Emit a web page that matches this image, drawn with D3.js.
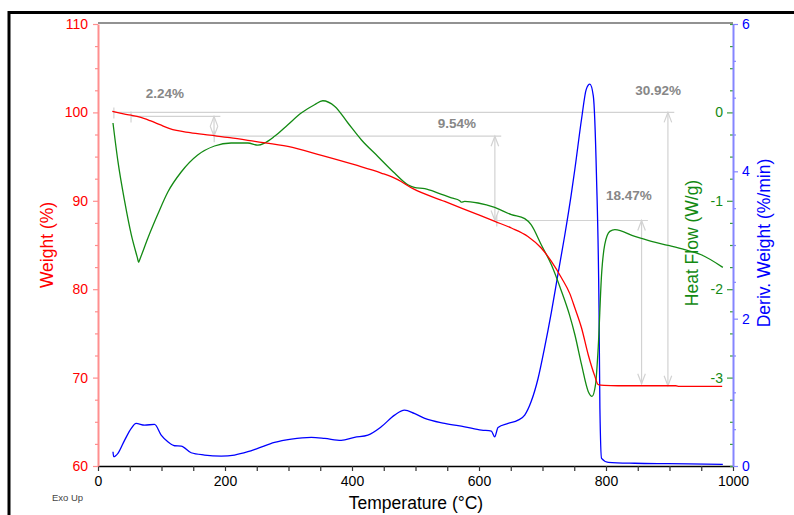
<!DOCTYPE html>
<html>
<head>
<meta charset="utf-8">
<script src="https://cdn.jsdelivr.net/npm/d3@7"></script>
<style>
  body { margin: 0; background: #fff; }
  svg { display: block; font-family: "Liberation Sans", Arial, sans-serif; }
</style>
</head>
<body>
<svg id="chart" width="794" height="515"></svg>
<script>
// ---- TGA / DSC run: weight, heat flow and derivative weight vs temperature ----
const weightTemp = [22.5, 34.6, 52, 66, 82, 97.5, 113, 145, 176, 207.5, 247, 299, 352, 404, 446, 472, 496, 546, 598.5, 625, 651, 677, 698, 714, 730, 743, 751, 761.5, 772, 782.5, 787.7, 797, 819, 910, 915, 983];
const weightPct  = [100.11, 99.91, 99.68, 99.46, 99.06, 98.61, 98.16, 97.70, 97.42, 97.14, 96.72, 96.15, 95.14, 94.08, 93.14, 92.39, 91.37, 89.93, 88.43, 87.67, 86.92, 85.97, 84.66, 83.14, 81.27, 79.5, 77.87, 75.61, 72.59, 70.14, 69.2, 69.12, 69.08, 69.08, 69.0, 69.0];

const heatTemp = [23.6, 31.4, 42, 52.4, 62, 64, 66, 78.6, 94.3, 110, 131, 157, 183.5, 209.6, 236, 251.6, 262.6, 278, 299, 320, 341, 354, 373, 393.6, 414.6, 440.7, 467, 488, 498, 514.6, 535.7, 556.6, 569.7, 572, 577.5, 598.5, 624.7, 651, 672, 682, 698, 714, 730, 742.5, 751, 761.5, 772, 778, 783.5, 787.7, 793, 798, 806, 814, 845.4, 871.5, 898, 924, 950, 984];
const heatFlow = [-0.12, -0.554, -1.007, -1.383, -1.643, -1.695, -1.66, -1.42, -1.149, -0.90, -0.674, -0.482, -0.38, -0.346, -0.346, -0.371, -0.346, -0.271, -0.139, -0.007, 0.087, 0.132, 0.068, -0.12, -0.309, -0.498, -0.686, -0.818, -0.848, -0.863, -0.912, -0.968, -0.999, -1.016, -1.007, -1.025, -1.075, -1.157, -1.202, -1.27, -1.497, -1.723, -2.025, -2.29, -2.515, -2.854, -3.156, -3.213, -3.08, -2.665, -1.836, -1.497, -1.346, -1.327, -1.403, -1.459, -1.505, -1.553, -1.61, -1.753];

const derivTemp = [23.6, 24.7, 31.4, 42, 52.4, 60, 73.4, 89, 99.5, 110, 120.6, 131, 146.7, 167.7, 194, 215, 236, 251.6, 278, 304.5, 336, 357, 383, 404, 425, 446, 467, 482.7, 498, 514.6, 546, 577.5, 604, 619.5, 624.7, 630, 645.8, 661.5, 672, 682, 693, 703, 714, 724, 735, 745, 751, 761.5, 769, 774.6, 780, 785, 789, 790.4, 793, 803.5, 845, 898, 984];
const derivWeight = [0.194, 0.126, 0.172, 0.352, 0.511, 0.578, 0.555, 0.565, 0.42, 0.329, 0.275, 0.271, 0.18, 0.149, 0.135, 0.149, 0.194, 0.24, 0.321, 0.366, 0.389, 0.375, 0.348, 0.389, 0.42, 0.532, 0.691, 0.758, 0.714, 0.646, 0.578, 0.532, 0.488, 0.474, 0.397, 0.524, 0.578, 0.623, 0.691, 0.871, 1.188, 1.594, 2.09, 2.587, 3.129, 3.67, 4.032, 4.71, 5.116, 5.184, 5.025, 3.941, 2.136, 0.781, 0.104, 0.05, 0.037, 0.031, 0.023];

// weight-loss steps
const stepLabels     = ["2.24%", "9.54%", "18.47%", "30.92%"];
const stepLoss       = [2.24, 9.54, 18.47, 30.92];
const stepFromWeight = [99.55, 97.31, 87.77, 100.0];
const stepStartTemp  = [52, 183, 628, 25];
const stepArrowTemp  = [182.7, 625, 856, 897.5];
const stepLabelTemp  = [105.5, 565, 836, 882];
const stepLabelWeight = [102.2, 98.8, 90.66, 102.5];

// axis ticks
const tempTicks   = d3.range(0, 1000.1, 50);
const tempLabels  = [0, 200, 400, 600, 800, 1000];
const weightTicks = d3.range(60, 110.1, 2.5);
const weightLabels = [60, 70, 80, 90, 100, 110];
const heatTicks   = d3.range(-4, 1.01, 0.25);
const heatLabels  = [0, -1, -2, -3];
const derivTicks  = d3.range(0, 6.01, 0.5);
const derivLabels = [0, 2, 4, 6];

const RED = "#ff0000", GREEN = "#138a13", BLUE = "#0000ff";
const svg = d3.select("#chart");

const x  = d3.scaleLinear().domain([0, 1000]).range([98, 733]);
const yW = d3.scaleLinear().domain([60, 110]).range([466, 24]);
const yH = d3.scaleLinear().domain([-4, 1]).range([466, 24]);
const yD = d3.scaleLinear().domain([0, 6]).range([466, 24]);

// outer frame
svg.append("path").attr("d", "M9,515V12.5H794").attr("fill", "none")
  .attr("stroke", "#000").attr("stroke-width", 3);

// top border of plot
svg.append("line").attr("x1", x(0)).attr("x2", x(1000)).attr("y1", 23).attr("y2", 23)
  .attr("stroke", "#6e6e6e").attr("stroke-width", 1.5);

function styleAxis(g, color, lineColor, labels, majorSize, minorSize, dir) {
  g.select(".domain").attr("stroke", lineColor).attr("stroke-width", 2);
  g.selectAll(".tick line").attr("stroke", lineColor).attr("stroke-width", 1.2)
    .each(function(d) {
      const len = labels.some(v => Math.abs(v - d) < 1e-9) ? majorSize : minorSize;
      const l = d3.select(this);
      if (dir === "x") l.attr("y2", len);
      else l.attr("x2", dir === "left" ? -len : len);
    });
  g.selectAll(".tick text").attr("fill", color).style("font-size", "14px");
}

const fmt = labels => d => labels.some(v => Math.abs(v - d) < 1e-9) ? String(d) : "";

// bottom axis
const gx = svg.append("g").attr("transform", "translate(0,466)")
  .call(d3.axisBottom(x).tickValues(tempTicks).tickFormat(fmt(tempLabels))
    .tickSize(5).tickSizeOuter(0).tickPadding(5));
styleAxis(gx, "#000", "#333", tempLabels, 5, 5, "x");
gx.select(".domain").attr("stroke", "#000").attr("stroke-width", 1.5);

// left weight axis
const gw = svg.append("g").attr("transform", "translate(98,0)")
  .call(d3.axisLeft(yW).tickValues(weightTicks).tickFormat(fmt(weightLabels))
    .tickSize(5).tickSizeOuter(0).tickPadding(5));
styleAxis(gw, RED, "#ff8f8f", weightLabels, 5, 3, "left");

// right heat flow axis (ticks inside)
const gh = svg.append("g").attr("transform", "translate(733,0)")
  .call(d3.axisLeft(yH).tickValues(heatTicks).tickFormat(fmt(heatLabels))
    .tickSize(6).tickSizeOuter(0).tickPadding(4));
styleAxis(gh, GREEN, "#3c9c3c", heatLabels, 6, 3, "left");
gh.select(".domain").remove();

// right derivative axis
const gd = svg.append("g").attr("transform", "translate(733,0)")
  .call(d3.axisRight(yD).tickValues(derivTicks).tickFormat(fmt(derivLabels))
    .tickSize(5).tickSizeOuter(0).tickPadding(4));
styleAxis(gd, BLUE, "#8585ff", derivLabels, 5, 3, "right");

// step annotations
const ann = svg.append("g").attr("stroke", "#d2d2d2").attr("fill", "none").attr("stroke-width", 1.2);
stepLabels.forEach((lab, i) => {
  const top = yW(stepFromWeight[i]);
  const bot = yW(stepFromWeight[i] - stepLoss[i]);
  const ax = x(stepArrowTemp[i]);
  const sx = x(stepStartTemp[i]);
  ann.append("line").attr("x1", sx).attr("x2", x(stepArrowTemp[i] + 10)).attr("y1", top).attr("y2", top);
  ann.append("line").attr("x1", sx).attr("x2", sx).attr("y1", top - 5).attr("y2", top + 6);
  ann.append("line").attr("x1", ax).attr("x2", ax).attr("y1", top).attr("y2", bot);
  ann.append("path").attr("d", `M${ax - 3.8},${top + 10}L${ax},${top}L${ax + 3.8},${top + 10}`);
  ann.append("path").attr("d", `M${ax - 3.8},${bot - 10}L${ax},${bot}L${ax + 3.8},${bot - 10}`);
  svg.append("text").attr("x", x(stepLabelTemp[i])).attr("y", yW(stepLabelWeight[i]))
    .attr("dy", "0.36em").attr("text-anchor", "middle")
    .attr("fill", "#878787").style("font-size", "13.5px").style("font-weight", "bold")
    .text(lab);
});

// curves
function drawCurve(xs, ys, yScale, color) {
  const pts = xs.map((t, i) => [t, ys[i]]);
  svg.append("path").datum(pts)
    .attr("fill", "none").attr("stroke", color).attr("stroke-width", 1.3)
    .attr("stroke-linejoin", "round")
    .attr("d", d3.line().x(d => x(d[0])).y(d => yScale(d[1])).curve(d3.curveMonotoneX));
}
drawCurve(derivTemp, derivWeight, yD, BLUE);
drawCurve(heatTemp, heatFlow, yH, GREEN);
drawCurve(weightTemp, weightPct, yW, RED);

// axis titles
svg.append("text").attr("transform", "translate(47,245) rotate(-90)")
  .attr("text-anchor", "middle").attr("dy", "0.35em")
  .attr("fill", RED).style("font-size", "17.5px").text("Weight (%)");
svg.append("text").attr("transform", "translate(692,243) rotate(-90)")
  .attr("text-anchor", "middle").attr("dy", "0.35em")
  .attr("fill", GREEN).style("font-size", "17.5px").text("Heat Flow (W/g)");
svg.append("text").attr("transform", "translate(764,243) rotate(-90)")
  .attr("text-anchor", "middle").attr("dy", "0.35em")
  .attr("fill", BLUE).style("font-size", "17.5px").text("Deriv. Weight (%/min)");
svg.append("text").attr("x", 416).attr("y", 503).attr("dy", "0.35em")
  .attr("text-anchor", "middle").attr("fill", "#000").style("font-size", "17.5px")
  .text("Temperature (°C)");
svg.append("text").attr("x", 52).attr("y", 498).attr("dy", "0.35em")
  .attr("fill", "#444").style("font-size", "9.5px").text("Exo Up");
</script>
</body>
</html>
